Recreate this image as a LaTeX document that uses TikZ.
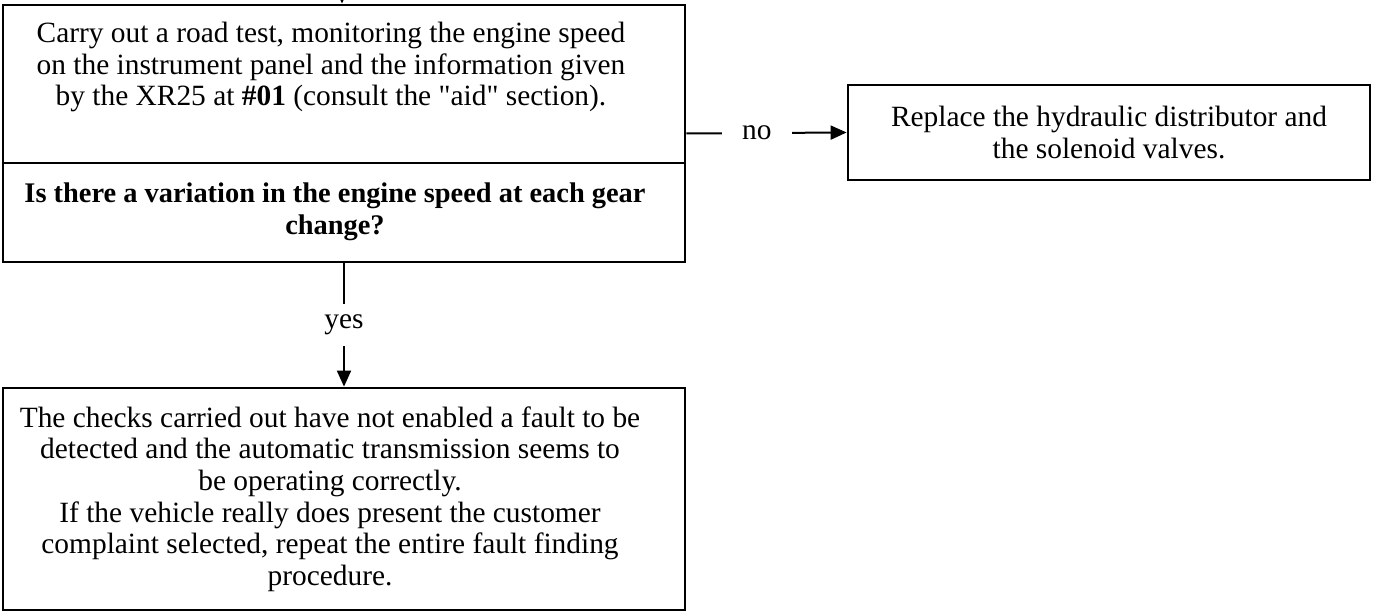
\documentclass[tikz,border=0pt]{standalone}
\usepackage{fontspec}
\setmainfont{Liberation Serif}
\usetikzlibrary{arrows.meta,positioning}
\begin{document}
\begin{tikzpicture}[x=0.5pt,y=-0.5pt,font=\fontsize{14.7}{15.8}\selectfont,
  box/.style={draw, line width=1.4pt, inner sep=0pt},
  txt/.style={align=center, inner sep=0pt},
  link/.style={line width=1pt},
  arr/.style={link, -{Triangle[length=8pt,width=7pt]}},
  lbl/.style={fill=white, inner sep=0pt}]
  \useasboundingbox (0,0) rectangle (1376,613);
  % road test and question
  \node[box, minimum width=341pt, minimum height=128.5pt] (check) at (344,133.5) {};
  \coordinate (split) at (344,163);
  \draw[box] (check.west |- split) -- (check.east |- split);
  \node[txt] (test) at (331,67) {Carry out a road test, monitoring the engine speed\\on the instrument panel and the information given\\by the XR25 at \textbf{\#01} (consult the \textquotedbl aid\textquotedbl{} section).};
  \node[txt, font=\fontsize{14.2}{15.8}\selectfont\bfseries] (question) at (335,212) {Is there a variation in the engine speed at each gear\\change?};
  % no
  \node[box, minimum width=261pt, minimum height=47.5pt, align=center] (replace) at (1109,132.5) {Replace the hydraulic distributor and\\the solenoid valves.};
  % yes
  \node[box, minimum width=341pt, minimum height=111pt] (result) at (344,499) {};
  \node[txt] (resulttxt) at (330,499) {The checks carried out have not enabled a fault to be\\detected and the automatic transmission seems to\\be operating correctly.\\If the vehicle really does present the customer\\complaint selected, repeat the entire fault finding\\procedure.};
  % connectors
  \coordinate (entry) at (342,-20);
  \draw[arr] (entry) -- (check.north -| entry);
  \draw[arr] (check.east) -- node[lbl, pos=0.44, inner xsep=10pt] {no} (replace.west);
  \draw[arr] (check.south) -- node[lbl, inner ysep=5.5pt] {yes} (result.north);
\end{tikzpicture}
\end{document}
